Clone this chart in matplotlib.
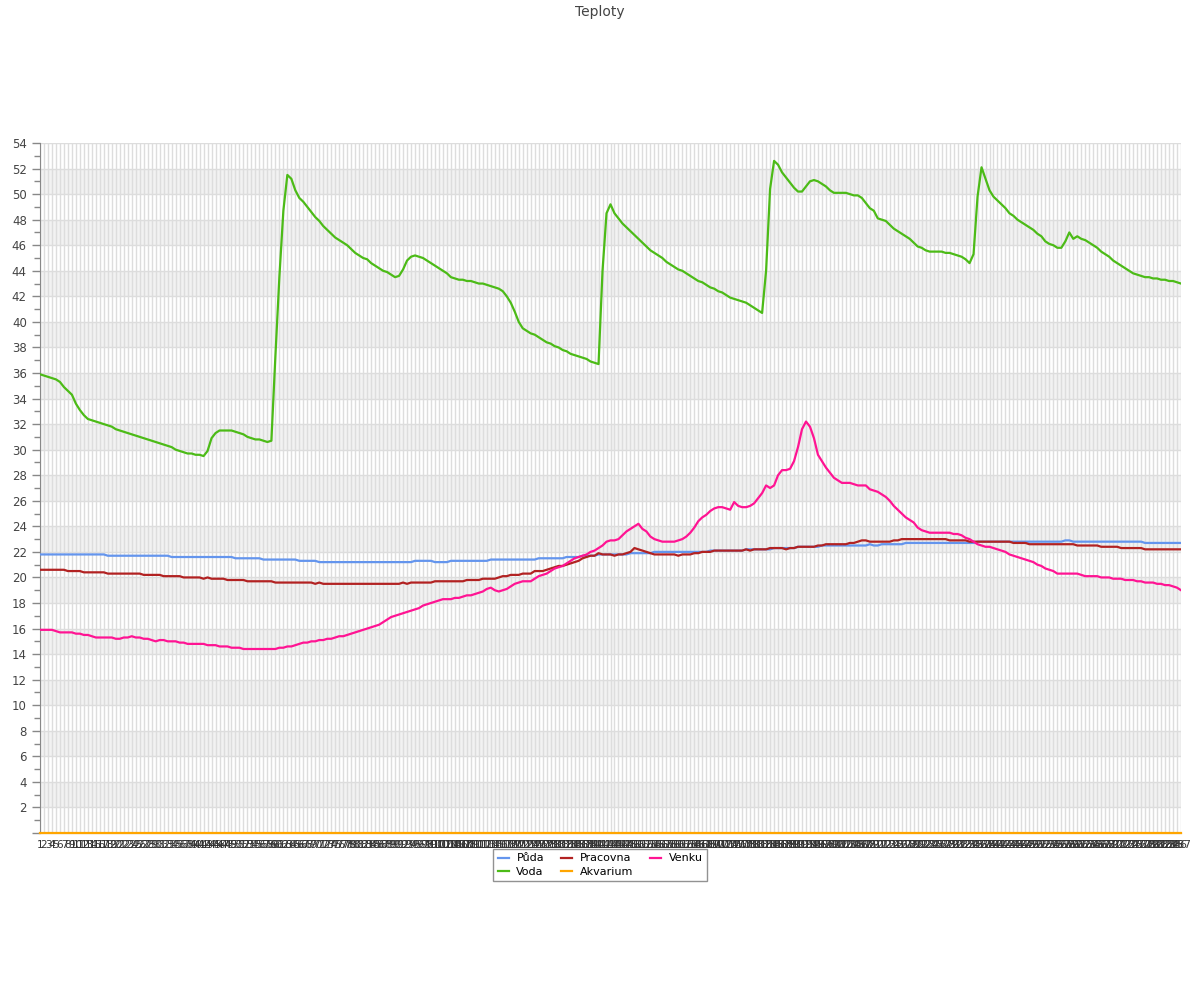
import matplotlib
matplotlib.use('Agg')
import matplotlib.pyplot as plt

plt.rcParams['font.family'] = ['DejaVu Sans']

# kategorie na ose x (1..287)
kategorie = [str(i) for i in range(1, 288)]

puda = [
    21.8, 21.8, 21.8, 21.8, 21.8, 21.8, 21.8, 21.8, 21.8, 21.8,
    21.8, 21.8, 21.8, 21.8, 21.8, 21.8, 21.8, 21.7, 21.7, 21.7,
    21.7, 21.7, 21.7, 21.7, 21.7, 21.7, 21.7, 21.7, 21.7, 21.7,
    21.7, 21.7, 21.7, 21.6, 21.6, 21.6, 21.6, 21.6, 21.6, 21.6,
    21.6, 21.6, 21.6, 21.6, 21.6, 21.6, 21.6, 21.6, 21.6, 21.5,
    21.5, 21.5, 21.5, 21.5, 21.5, 21.5, 21.4, 21.4, 21.4, 21.4,
    21.4, 21.4, 21.4, 21.4, 21.4, 21.3, 21.3, 21.3, 21.3, 21.3,
    21.2, 21.2, 21.2, 21.2, 21.2, 21.2, 21.2, 21.2, 21.2, 21.2,
    21.2, 21.2, 21.2, 21.2, 21.2, 21.2, 21.2, 21.2, 21.2, 21.2,
    21.2, 21.2, 21.2, 21.2, 21.3, 21.3, 21.3, 21.3, 21.3, 21.2,
    21.2, 21.2, 21.2, 21.3, 21.3, 21.3, 21.3, 21.3, 21.3, 21.3,
    21.3, 21.3, 21.3, 21.4, 21.4, 21.4, 21.4, 21.4, 21.4, 21.4,
    21.4, 21.4, 21.4, 21.4, 21.4, 21.5, 21.5, 21.5, 21.5, 21.5,
    21.5, 21.5, 21.6, 21.6, 21.6, 21.6, 21.7, 21.7, 21.7, 21.7,
    21.8, 21.8, 21.8, 21.8, 21.8, 21.8, 21.8, 21.8, 21.9, 21.9,
    21.9, 21.9, 21.9, 21.9, 22.0, 22.0, 22.0, 22.0, 22.0, 22.0,
    22.0, 22.0, 22.0, 22.0, 22.0, 22.0, 22.0, 22.0, 22.1, 22.1,
    22.1, 22.1, 22.1, 22.1, 22.1, 22.1, 22.1, 22.2, 22.2, 22.2,
    22.2, 22.2, 22.2, 22.2, 22.3, 22.3, 22.3, 22.3, 22.3, 22.3,
    22.4, 22.4, 22.4, 22.4, 22.4, 22.4, 22.5, 22.5, 22.5, 22.5,
    22.5, 22.5, 22.5, 22.5, 22.5, 22.5, 22.5, 22.5, 22.6, 22.5,
    22.5, 22.6, 22.6, 22.6, 22.6, 22.6, 22.6, 22.7, 22.7, 22.7,
    22.7, 22.7, 22.7, 22.7, 22.7, 22.7, 22.7, 22.7, 22.7, 22.7,
    22.7, 22.7, 22.7, 22.7, 22.7, 22.8, 22.8, 22.8, 22.8, 22.8,
    22.8, 22.8, 22.8, 22.8, 22.8, 22.8, 22.8, 22.8, 22.8, 22.8,
    22.8, 22.8, 22.8, 22.8, 22.8, 22.8, 22.8, 22.9, 22.9, 22.8,
    22.8, 22.8, 22.8, 22.8, 22.8, 22.8, 22.8, 22.8, 22.8, 22.8,
    22.8, 22.8, 22.8, 22.8, 22.8, 22.8, 22.8, 22.7, 22.7, 22.7,
    22.7, 22.7, 22.7, 22.7, 22.7, 22.7, 22.7,
]

voda = [
    35.9, 35.8, 35.7, 35.6, 35.5, 35.3, 34.9, 34.6, 34.3, 33.6,
    33.1, 32.7, 32.4, 32.3, 32.2, 32.1, 32.0, 31.9, 31.8, 31.6,
    31.5, 31.4, 31.3, 31.2, 31.1, 31.0, 30.9, 30.8, 30.7, 30.6,
    30.5, 30.4, 30.3, 30.2, 30.0, 29.9, 29.8, 29.7, 29.7, 29.6,
    29.6, 29.5, 29.9, 30.9, 31.3, 31.5, 31.5, 31.5, 31.5, 31.4,
    31.3, 31.2, 31.0, 30.9, 30.8, 30.8, 30.7, 30.6, 30.7, 37.3,
    43.5, 48.7, 51.5, 51.2, 50.3, 49.7, 49.4, 49.0, 48.6, 48.2,
    47.9, 47.5, 47.2, 46.9, 46.6, 46.4, 46.2, 46.0, 45.7, 45.4,
    45.2, 45.0, 44.9, 44.6, 44.4, 44.2, 44.0, 43.9, 43.7, 43.5,
    43.6, 44.1, 44.8, 45.1, 45.2, 45.1, 45.0, 44.8, 44.6, 44.4,
    44.2, 44.0, 43.8, 43.5, 43.4, 43.3, 43.3, 43.2, 43.2, 43.1,
    43.0, 43.0, 42.9, 42.8, 42.7, 42.6, 42.4, 42.0, 41.5, 40.8,
    40.0, 39.5, 39.3, 39.1, 39.0, 38.8, 38.6, 38.4, 38.3, 38.1,
    38.0, 37.8, 37.7, 37.5, 37.4, 37.3, 37.2, 37.1, 36.9, 36.8,
    36.7, 44.0, 48.5, 49.2, 48.5, 48.1, 47.7, 47.4, 47.1, 46.8,
    46.5, 46.2, 45.9, 45.6, 45.4, 45.2, 45.0, 44.7, 44.5, 44.3,
    44.1, 44.0, 43.8, 43.6, 43.4, 43.2, 43.1, 42.9, 42.7, 42.6,
    42.4, 42.3, 42.1, 41.9, 41.8, 41.7, 41.6, 41.5, 41.3, 41.1,
    40.9, 40.7, 44.0, 50.4, 52.6, 52.3, 51.7, 51.3, 50.9, 50.5,
    50.2, 50.2, 50.6, 51.0, 51.1, 51.0, 50.8, 50.6, 50.3, 50.1,
    50.1, 50.1, 50.1, 50.0, 49.9, 49.9, 49.7, 49.3, 48.9, 48.7,
    48.1, 48.0, 47.9, 47.6, 47.3, 47.1, 46.9, 46.7, 46.5, 46.2,
    45.9, 45.8, 45.6, 45.5, 45.5, 45.5, 45.5, 45.4, 45.4, 45.3,
    45.2, 45.1, 44.9, 44.6, 45.3, 49.8, 52.1, 51.2, 50.3, 49.8,
    49.5, 49.2, 48.9, 48.5, 48.3, 48.0, 47.8, 47.6, 47.4, 47.2,
    46.9, 46.7, 46.3, 46.1, 46.0, 45.8, 45.8, 46.3, 47.0, 46.5,
    46.7, 46.5, 46.4, 46.2, 46.0, 45.8, 45.5, 45.3, 45.1, 44.8,
    44.6, 44.4, 44.2, 44.0, 43.8, 43.7, 43.6, 43.5, 43.5, 43.4,
    43.4, 43.3, 43.3, 43.2, 43.2, 43.1, 43.0,
]

pracovna = [
    20.6, 20.6, 20.6, 20.6, 20.6, 20.6, 20.6, 20.5, 20.5, 20.5,
    20.5, 20.4, 20.4, 20.4, 20.4, 20.4, 20.4, 20.3, 20.3, 20.3,
    20.3, 20.3, 20.3, 20.3, 20.3, 20.3, 20.2, 20.2, 20.2, 20.2,
    20.2, 20.1, 20.1, 20.1, 20.1, 20.1, 20.0, 20.0, 20.0, 20.0,
    20.0, 19.9, 20.0, 19.9, 19.9, 19.9, 19.9, 19.8, 19.8, 19.8,
    19.8, 19.8, 19.7, 19.7, 19.7, 19.7, 19.7, 19.7, 19.7, 19.6,
    19.6, 19.6, 19.6, 19.6, 19.6, 19.6, 19.6, 19.6, 19.6, 19.5,
    19.6, 19.5, 19.5, 19.5, 19.5, 19.5, 19.5, 19.5, 19.5, 19.5,
    19.5, 19.5, 19.5, 19.5, 19.5, 19.5, 19.5, 19.5, 19.5, 19.5,
    19.5, 19.6, 19.5, 19.6, 19.6, 19.6, 19.6, 19.6, 19.6, 19.7,
    19.7, 19.7, 19.7, 19.7, 19.7, 19.7, 19.7, 19.8, 19.8, 19.8,
    19.8, 19.9, 19.9, 19.9, 19.9, 20.0, 20.1, 20.1, 20.2, 20.2,
    20.2, 20.3, 20.3, 20.3, 20.5, 20.5, 20.5, 20.6, 20.7, 20.8,
    20.9, 20.9, 21.0, 21.1, 21.2, 21.3, 21.5, 21.6, 21.7, 21.7,
    21.9, 21.8, 21.8, 21.8, 21.7, 21.8, 21.8, 21.9, 22.0, 22.3,
    22.2, 22.1, 22.0, 21.9, 21.8, 21.8, 21.8, 21.8, 21.8, 21.8,
    21.7, 21.8, 21.8, 21.8, 21.9, 21.9, 22.0, 22.0, 22.0, 22.1,
    22.1, 22.1, 22.1, 22.1, 22.1, 22.1, 22.1, 22.2, 22.1, 22.2,
    22.2, 22.2, 22.2, 22.3, 22.3, 22.3, 22.3, 22.2, 22.3, 22.3,
    22.4, 22.4, 22.4, 22.4, 22.4, 22.5, 22.5, 22.6, 22.6, 22.6,
    22.6, 22.6, 22.6, 22.7, 22.7, 22.8, 22.9, 22.9, 22.8, 22.8,
    22.8, 22.8, 22.8, 22.8, 22.9, 22.9, 23.0, 23.0, 23.0, 23.0,
    23.0, 23.0, 23.0, 23.0, 23.0, 23.0, 23.0, 23.0, 22.9, 22.9,
    22.9, 22.9, 22.9, 22.8, 22.8, 22.8, 22.8, 22.8, 22.8, 22.8,
    22.8, 22.8, 22.8, 22.8, 22.7, 22.7, 22.7, 22.7, 22.6, 22.6,
    22.6, 22.6, 22.6, 22.6, 22.6, 22.6, 22.6, 22.6, 22.6, 22.6,
    22.5, 22.5, 22.5, 22.5, 22.5, 22.5, 22.4, 22.4, 22.4, 22.4,
    22.4, 22.3, 22.3, 22.3, 22.3, 22.3, 22.3, 22.2, 22.2, 22.2,
    22.2, 22.2, 22.2, 22.2, 22.2, 22.2, 22.2,
]

akvarium = [
    0, 0, 0, 0, 0, 0, 0, 0, 0, 0, 0, 0, 0, 0, 0, 0, 0, 0, 0, 0,
    0, 0, 0, 0, 0, 0, 0, 0, 0, 0, 0, 0, 0, 0, 0, 0, 0, 0, 0, 0,
    0, 0, 0, 0, 0, 0, 0, 0, 0, 0, 0, 0, 0, 0, 0, 0, 0, 0, 0, 0,
    0, 0, 0, 0, 0, 0, 0, 0, 0, 0, 0, 0, 0, 0, 0, 0, 0, 0, 0, 0,
    0, 0, 0, 0, 0, 0, 0, 0, 0, 0, 0, 0, 0, 0, 0, 0, 0, 0, 0, 0,
    0, 0, 0, 0, 0, 0, 0, 0, 0, 0, 0, 0, 0, 0, 0, 0, 0, 0, 0, 0,
    0, 0, 0, 0, 0, 0, 0, 0, 0, 0, 0, 0, 0, 0, 0, 0, 0, 0, 0, 0,
    0, 0, 0, 0, 0, 0, 0, 0, 0, 0, 0, 0, 0, 0, 0, 0, 0, 0, 0, 0,
    0, 0, 0, 0, 0, 0, 0, 0, 0, 0, 0, 0, 0, 0, 0, 0, 0, 0, 0, 0,
    0, 0, 0, 0, 0, 0, 0, 0, 0, 0, 0, 0, 0, 0, 0, 0, 0, 0, 0, 0,
    0, 0, 0, 0, 0, 0, 0, 0, 0, 0, 0, 0, 0, 0, 0, 0, 0, 0, 0, 0,
    0, 0, 0, 0, 0, 0, 0, 0, 0, 0, 0, 0, 0, 0, 0, 0, 0, 0, 0, 0,
    0, 0, 0, 0, 0, 0, 0, 0, 0, 0, 0, 0, 0, 0, 0, 0, 0, 0, 0, 0,
    0, 0, 0, 0, 0, 0, 0, 0, 0, 0, 0, 0, 0, 0, 0, 0, 0, 0, 0, 0,
    0, 0, 0, 0, 0, 0, 0,
]

venku = [
    15.9, 15.9, 15.9, 15.9, 15.8, 15.7, 15.7, 15.7, 15.7, 15.6,
    15.6, 15.5, 15.5, 15.4, 15.3, 15.3, 15.3, 15.3, 15.3, 15.2,
    15.2, 15.3, 15.3, 15.4, 15.3, 15.3, 15.2, 15.2, 15.1, 15.0,
    15.1, 15.1, 15.0, 15.0, 15.0, 14.9, 14.9, 14.8, 14.8, 14.8,
    14.8, 14.8, 14.7, 14.7, 14.7, 14.6, 14.6, 14.6, 14.5, 14.5,
    14.5, 14.4, 14.4, 14.4, 14.4, 14.4, 14.4, 14.4, 14.4, 14.4,
    14.5, 14.5, 14.6, 14.6, 14.7, 14.8, 14.9, 14.9, 15.0, 15.0,
    15.1, 15.1, 15.2, 15.2, 15.3, 15.4, 15.4, 15.5, 15.6, 15.7,
    15.8, 15.9, 16.0, 16.1, 16.2, 16.3, 16.5, 16.7, 16.9, 17.0,
    17.1, 17.2, 17.3, 17.4, 17.5, 17.6, 17.8, 17.9, 18.0, 18.1,
    18.2, 18.3, 18.3, 18.3, 18.4, 18.4, 18.5, 18.6, 18.6, 18.7,
    18.8, 18.9, 19.1, 19.2, 19.0, 18.9, 19.0, 19.1, 19.3, 19.5,
    19.6, 19.7, 19.7, 19.7, 19.9, 20.1, 20.2, 20.3, 20.5, 20.7,
    20.8, 20.9, 21.1, 21.3, 21.5, 21.6, 21.7, 21.8, 22.0, 22.1,
    22.3, 22.5, 22.8, 22.9, 22.9, 23.0, 23.3, 23.6, 23.8, 24.0,
    24.2, 23.8, 23.6, 23.2, 23.0, 22.9, 22.8, 22.8, 22.8, 22.8,
    22.9, 23.0, 23.2, 23.5, 23.9, 24.4, 24.7, 24.9, 25.2, 25.4,
    25.5, 25.5, 25.4, 25.3, 25.9, 25.6, 25.5, 25.5, 25.6, 25.8,
    26.2, 26.6, 27.2, 27.0, 27.2, 28.0, 28.4, 28.4, 28.5, 29.1,
    30.2, 31.6, 32.2, 31.8, 30.9, 29.6, 29.1, 28.6, 28.2, 27.8,
    27.6, 27.4, 27.4, 27.4, 27.3, 27.2, 27.2, 27.2, 26.9, 26.8,
    26.7, 26.5, 26.3, 26.0, 25.6, 25.3, 25.0, 24.7, 24.5, 24.3,
    23.9, 23.7, 23.6, 23.5, 23.5, 23.5, 23.5, 23.5, 23.5, 23.4,
    23.4, 23.3, 23.1, 23.0, 22.8, 22.6, 22.5, 22.4, 22.4, 22.3,
    22.2, 22.1, 22.0, 21.8, 21.7, 21.6, 21.5, 21.4, 21.3, 21.2,
    21.0, 20.9, 20.7, 20.6, 20.5, 20.3, 20.3, 20.3, 20.3, 20.3,
    20.3, 20.2, 20.1, 20.1, 20.1, 20.1, 20.0, 20.0, 20.0, 19.9,
    19.9, 19.9, 19.8, 19.8, 19.8, 19.7, 19.7, 19.6, 19.6, 19.6,
    19.5, 19.5, 19.4, 19.4, 19.3, 19.2, 19.0,
]

y_ticks = list(range(0, 55, 2))

fig = plt.figure(figsize=(12, 10), dpi=100)
ax = fig.add_axes([40 / 1200, 0.167, 1141 / 1200, 0.690])

x = list(range(len(kategorie)))

# pruhy na pozadi
for lo in range(2, 54, 4):
    ax.axhspan(lo, lo + 2, color='#f2f2f2', zorder=0, lw=0)

ax.plot(x, puda, color='#6495ed', lw=1.6, label='Půda', zorder=3)
ax.plot(x, voda, color='#4cbb17', lw=1.6, label='Voda', zorder=3)
ax.plot(x, pracovna, color='#b22222', lw=1.6, label='Pracovna', zorder=3)
ax.plot(x, akvarium, color='#ffa500', lw=1.6, label='Akvarium', zorder=4, clip_on=False)
ax.plot(x, venku, color='#ff1493', lw=1.6, label='Venku', zorder=3)

ax.set_xlim(0, len(kategorie) - 1)
ax.set_ylim(0, 54)

ax.set_xticks(x)
ax.set_xticklabels(kategorie, fontsize=7.5, color='#333333')
ax.tick_params(axis='x', length=0, pad=5)
ax.grid(axis='x', color='#dddddd', lw=1, zorder=1)

ax.set_yticks(y_ticks)
ax.set_yticklabels([''] + [str(v) for v in y_ticks[1:]], fontsize=8.5, color='#444444')
ax.set_yticks(list(range(1, 54, 2)), minor=True)
ax.tick_params(axis='y', which='major', length=6, color='#888888', width=1)
ax.tick_params(axis='y', which='minor', length=4, color='#888888', width=1)
ax.grid(axis='y', which='major', color='#dddddd', lw=1, zorder=1)

for side in ['top', 'right']:
    ax.spines[side].set_visible(False)
ax.spines['left'].set_color('#888888')
ax.spines['bottom'].set_color('#888888')

fig.suptitle('Teploty', y=0.995, fontsize=10, color='#444444')

leg = fig.legend(loc='upper center', bbox_to_anchor=(0.5, 0.151), ncol=3,
                 fontsize=8, frameon=True, fancybox=False, handlelength=1.0,
                 handletextpad=0.7, columnspacing=1.5, borderpad=0.4,
                 labelspacing=0.3, borderaxespad=0)
leg.get_frame().set_edgecolor('#777777')
leg.get_frame().set_linewidth(1)

fig.savefig('out.png', dpi=100)
